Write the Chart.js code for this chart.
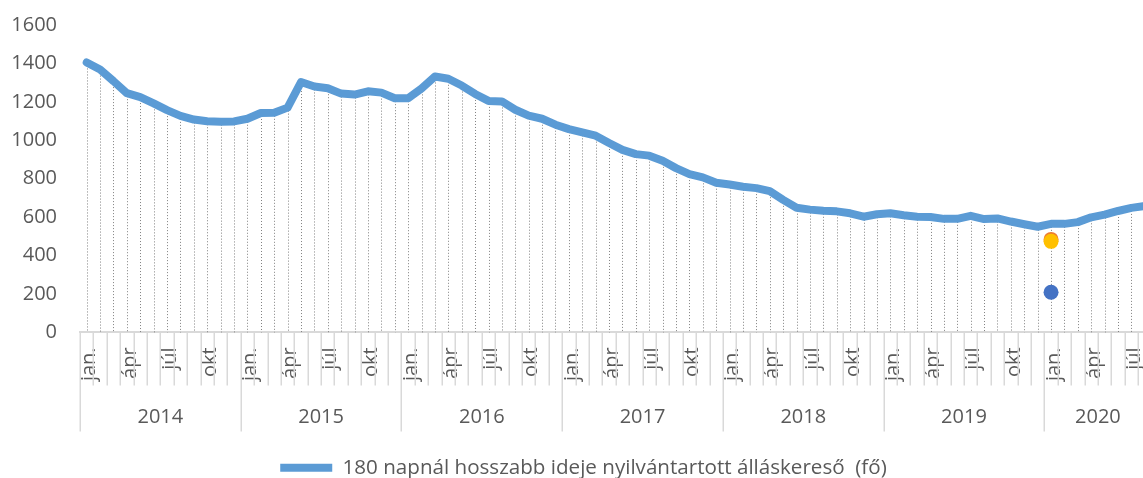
<!DOCTYPE html>
<html>
<head>
<meta charset="utf-8">
<script src="https://cdn.jsdelivr.net/npm/chart.js@4.4.1/dist/chart.umd.min.js"></script>
<style>
html,body{margin:0;padding:0;overflow:hidden;background:#fff;width:1143px;height:478px}
#wrap{width:1159px;height:478px}
canvas{display:block}
</style>
</head>
<body>
<div id="wrap"><canvas id="c" width="1159" height="478"></canvas></div>
<script>
// ---- data ----
const years = ['2014','2015','2016','2017','2018','2019','2020'];
const monthTickLabels = ['jan.','','','ápr','','','júl','','','okt','',''];
const seriesLabel = '180 napnál hosszabb ideje nyilvántartott álláskereső  (fő)';
const values2014 = [1405,1368,1308,1245,1225,1192,1157,1127,1108,1099,1097,1098];
const values2015 = [1112,1142,1143,1170,1303,1280,1271,1243,1238,1255,1248,1219];
const values2016 = [1219,1270,1332,1320,1285,1241,1205,1202,1159,1128,1112,1081];
const values2017 = [1058,1041,1024,986,950,928,920,893,855,824,807,779];
const values2018 = [770,758,751,735,690,649,639,633,630,620,602,615];
const values2019 = [620,610,602,601,591,591,607,590,593,577,563,550];
const values2020 = [565,565,574,599,613,632,648,658];
const yTickValues = [0,200,400,600,800,1000,1200,1400,1600];
const markerMonthIndex = 72;          // jan. 2020
const markerOrangeValue = [484];
const markerYellowValue = [474];
const markerBlueValue = [209];

// ---- build ----
const yearValues = [values2014,values2015,values2016,values2017,values2018,values2019,values2020];
const labels = [];
const values = [];
yearValues.forEach((arr) => {
  arr.forEach((v, mi) => { labels.push(monthTickLabels[mi]); values.push(v); });
});
function markerData(arr){ const d = labels.map(()=>null); d[markerMonthIndex] = arr[0]; return d; }

const TEXT = '#595959';
const FONT = 'Open Sans';

const dropLines = {
  id:'dropLines',
  beforeDatasetsDraw(chart){
    const ctx = chart.ctx;
    const meta = chart.getDatasetMeta(0);
    const yb = chart.scales.y.getPixelForValue(0);
    ctx.save();
    ctx.strokeStyle = '#808080';
    ctx.lineWidth = 1;
    ctx.setLineDash([1,2]);
    meta.data.forEach(p => {
      const x = Math.round(p.x) + 0.5;
      ctx.beginPath(); ctx.moveTo(x, p.y); ctx.lineTo(x, yb); ctx.stroke();
    });
    ctx.restore();
  }
};

const axisGroups = {
  id:'axisGroups',
  afterDraw(chart){
    const ctx = chart.ctx;
    const xs = chart.scales.x;
    const axisY = chart.chartArea.bottom;
    const n = labels.length;
    const p0 = xs.getPixelForValue(0);
    const w = xs.getPixelForValue(1) - p0;
    const bx = i => p0 + (i - 0.5) * w;
    ctx.save();
    ctx.strokeStyle = '#d9d9d9';
    ctx.lineWidth = 1.5;
    for (let i = 0; i <= n; i++) {
      const x = Math.round(bx(i)) + 0.25;
      const len = (i % 12 === 0) ? 99 : 53;
      ctx.beginPath(); ctx.moveTo(x, axisY); ctx.lineTo(x, axisY + len); ctx.stroke();
    }
    ctx.fillStyle = TEXT;
    ctx.font = '20px "' + FONT + '"';
    ctx.textAlign = 'center';
    ctx.textBaseline = 'middle';
    years.forEach((yr, yi) => {
      const s = yi * 12;
      const e = Math.min(s + 12, n);
      ctx.fillText(yr, (bx(s) + bx(e)) / 2, axisY + 85);
    });
    ctx.restore();
  }
};

const pointDs = (label, arr, color) => ({
  label, data: markerData(arr), showLine:false, pointRadius:7.5, pointHoverRadius:7.5,
  pointBackgroundColor:color, pointBorderWidth:0, borderColor:color, backgroundColor:color
});

new Chart(document.getElementById('c').getContext('2d'), {
  type:'line',
  data:{
    labels,
    datasets:[
      {label: seriesLabel, data: values, borderColor:'#5B9BD5', backgroundColor:'#5B9BD5',
       borderWidth:8, pointRadius:0, pointHoverRadius:0, borderJoinStyle:'round', borderCapStyle:'round', tension:0, order:3},
      Object.assign(pointDs('a', markerOrangeValue, '#ED7D31'), {order:2}),
      Object.assign(pointDs('b', markerYellowValue, '#FFC000'), {order:1}),
      Object.assign(pointDs('c', markerBlueValue, '#4472C4'), {order:0})
    ]
  },
  options:{
    responsive:false, animation:false, devicePixelRatio:1,
    layout:{padding:{top:25,left:8,right:0,bottom:-10}},
    plugins:{
      legend:{position:'bottom',
        labels:{filter:(item)=>item.datasetIndex===0, usePointStyle:true, pointStyle:'line', pointStyleWidth:52,
          color:TEXT, font:{family:FONT,size:20.6}, padding:0}},
      tooltip:{enabled:false}
    },
    scales:{
      x:{offset:true,
        grid:{display:false, drawTicks:false, offset:true},
        border:{display:true, color:'#d9d9d9', width:2},
        ticks:{autoSkip:false, minRotation:90, maxRotation:90, padding:15, labelOffset:3, color:TEXT, font:{family:FONT,size:20}},
        afterFit:(s)=>{ s.height = 125; s.paddingLeft = 0; s.paddingRight = 0; }
      },
      y:{min:0, max:1600,
        afterBuildTicks:(s)=>{ s.ticks = yTickValues.map(v=>({value:v})); },
        ticks:{padding:23, color:TEXT, font:{family:FONT,size:20}, callback:(v)=>String(v)},
        grid:{display:false, drawTicks:false},
        border:{display:false},
        afterFit:(s)=>{ s.width = 72; s.paddingTop = 0; s.paddingBottom = 0; }
      }
    }
  },
  plugins:[dropLines, axisGroups]
});
</script>
</body>
</html>
